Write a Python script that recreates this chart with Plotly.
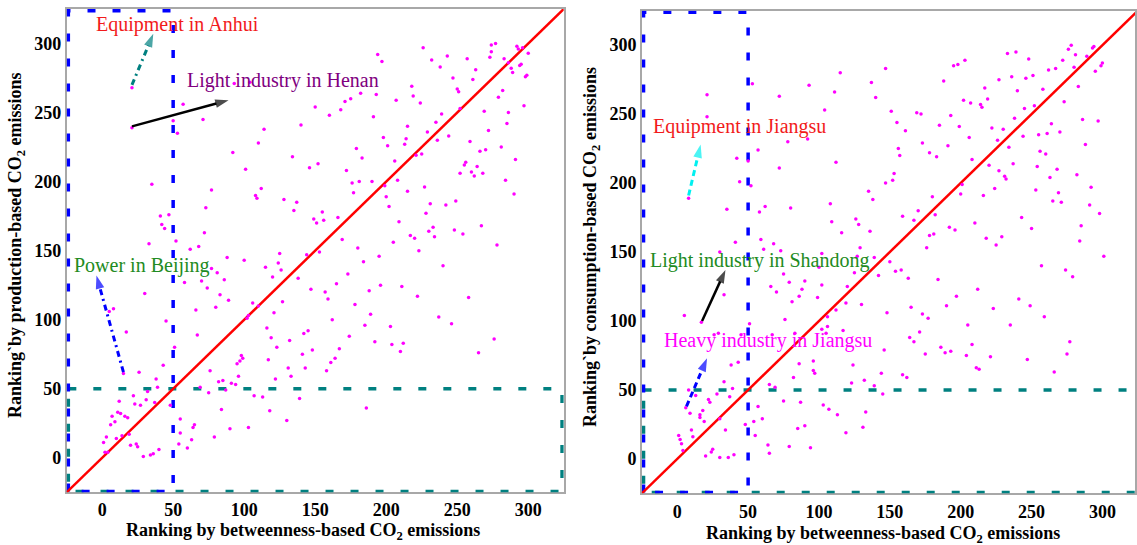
import plotly.graph_objects as go

# ---------------- data (rankings) ----------------
left_points = [
    (21,268),(21,239),(57,256),(50,244),(53,235),(71,245),(93,271),(104,272),(114,238),(110,228),
    (92,221),(101,209),(134,218),(140,241),(146,210),(152,213),(150,254),(160,248),(168,252),(171,258),
    (175,260),(182,264),(193,263),(194,292),(197,287),(191,247),(179,224),(183,217),(172,208),(198,232),
    (201,226),(206,215),(207,259),(218,269),(219,262),(224,257),(215,240),(214,231),(213,227),(221,219),
    (225,220),(226,297),(232,288),(238,283),(243,291),(247,275),(250,267),(251,265),(239,249),(235,243),
    (229,236),(236,230),(244,233),(252,253),(257,289),(263,281),(261,274),(259,229),(266,222),(270,223),
    (269,251),(272,237),(256,214),(255,212),(252,206),(260,207),(264,211),(268,206),(274,299),(277,300),
    (274,294),(273,290),(279,261),(282,266),(281,225),(283,289),(286,286),(288,282),(289,279),(292,298),
    (293,296),(296,297),(300,293),(294,284),(295,285),(299,277),(298,276),(297,255),(286,250),(285,242),
    (291,216),
    (262,204),(35,198),(77,194),(112,195),(108,190),(109,188),(128,187),(137,185),(135,179),(73,181),
    (41,175),(47,176),(42,169),(44,166),(72,163),(52,157),(33,155),(62,151),(68,153),(88,145),
    (100,143),(125,148),(124,141),(126,136),(115,138),(120,131),(77,137),(81,134),(86,129),(70,128),
    (58,127),(74,123),(83,118),(89,114),(30,119),(8,108),(5,106),(66,107),(80,109),(45,99),
    (17,91),(67,89),(106,112),(110,110),(103,103),(102,101),(121,105),(127,113),(116,94),(142,90),
    (145,92),(138,130),(147,122),(144,147),(153,149),(157,120),(159,115),(165,126),(173,133),(169,158),
    (166,174),(149,173),(151,170),(156,172),(155,178),(176,199),(181,200),(190,200),(177,192),(199,197),
    (200,189),(202,182),(208,201),(215,193),(227,196),(228,177),(231,184),(242,183),(249,186),(209,171),
    (217,161),(220,159),(230,164),(233,167),(234,160),(248,165),(254,162),(267,168),(278,154),(284,201),
    (290,191),(205,156),(180,152),(195,146),(184,142),(223,150),(240,139),(196,125),(188,121),(211,124),
    (222,117),(178,111),(189,104),(185,96),(203,95),(162,100),(237,102),(246,97),(258,116),
    (119,87),(174,88),(192,84),(204,82),(212,83),(210,77),(265,76),(276,86),(132,85),(123,80),
    (148,78),(141,75),(167,79),(164,72),(161,69),(158,63),(143,65),(131,65),(133,59),(117,71),
    (122,57),(98,74),(99,72),(97,70),(95,68),(96,59),(76,63),(51,80),(43,67),(26,62),
    (15,61),(38,57),(39,51),(32,48),(22,45),(12,41),(23,39),(31,42),(27,38),(37,40),
    (48,38),(11,33),(13,32),(16,30),(18,29),(7,30),(6,24),(9,26),(3,15),(1,11),
    (10,14),(14,16),(19,17),(2,4),(4,4),(20,9),(24,10),(25,8),(29,1),(34,2),
    (36,3),(40,6),(55,28),(55,18),(54,10),(60,7),(63,13),(64,22),(65,24),(69,51),
    (75,47),(82,55),(85,56),(87,49),(91,54),(94,53),(84,35),(79,15),(90,21),(103,22),
    (107,45),(113,44),(118,34),(130,27),(139,43),(186,36),
]

right_points = [
    (21,264),(21,248),(53,272),(72,263),(93,271),(115,280),(111,266),(104,253),(137,273),(147,283),
    (140,262),(151,252),(155,244),(161,238),(169,251),(172,250),(185,242),(188,274),(195,285),(198,286),
    (203,289),(193,249),(199,241),(202,260),(207,258),(214,257),(215,255),(219,261),(217,269),(227,275),
    (233,294),(239,295),(236,277),(240,267),(246,276),(248,290),(251,278),(238,247),(230,239),(226,231),
    (222,240),(234,226),(244,234),(245,254),(252,256),(258,268),(262,282),(267,283),(272,289),(276,297),
    (278,300),(281,293),(280,284),(283,270),(273,259),(264,243),(261,236),(255,235),(270,237),(256,223),
    (260,221),(254,212),(268,210),(282,206),(286,246),(288,228),(297,245),(289,292),(293,298),(294,299),
    (300,287),(299,285),(295,281),(227,209),(237,214),(220,213),(208,217),(206,233),(191,227),(183,219),
    (178,222),(173,229),(156,225),(157,220),(153,207),(112,215),(92,232),(78,230),(72,211),(57,224),
    (50,216),(42,218),
    (8,189),(44,201),(52,198),(35,181),(58,179),(62,183),(80,182),(108,185),(109,172),(116,164),
    (126,174),(128,170),(136,165),(135,194),(138,188),(147,200),(152,202),(159,176),(167,173),(170,180),
    (180,190),(182,177),(178,162),(181,163),(176,153),(192,168),(196,166),(201,199),(200,192),(210,171),
    (216,191),(224,196),(231,205),(232,203),(218,160),(225,155),(229,161),(243,175),(250,167),(253,195),
    (263,204),(269,193),(265,187),(271,186),(292,197),(291,184),(298,178),(285,169),(284,158),(301,147),
    (274,137),(279,132),(257,140),(241,116),(249,111),(259,103),(235,97),(223,109),(212,123),(197,118),
    (190,111),(205,97),(184,130),(163,131),(158,137),(154,136),(150,143),(142,133),(139,146),(129,153),
    (127,147),(125,135),(120,125),(119,113),(130,112),(148,106),(165,110),(173,105),(177,102),(171,92),
    (102,149),(100,139),(102,126),(99,117),(112,108),(106,103),(106,96),(102,94),(105,91),(117,93),
    (75,134),(79,128),(90,129),(88,123),(86,118),(81,114),(70,121),(66,125),(73,151),(68,156),
    (61,152),(59,159),(41,157),(30,150),(33,119),(5,104),(17,99),(51,98),(76,101),(67,90),
    (83,91),(29,91),(26,90),(45,90),
    (164,88),(167,85),(175,76),(186,81),(189,77),(193,78),(208,83),(204,75),(221,74),(211,66),
    (213,65),(247,72),(266,63),(275,76),(277,85),(146,79),(144,62),(159,61),(162,59),(139,53),
    (145,47),(132,57),(123,55),(124,68),(96,64),(97,62),(96,71),(86,69),(82,59),(69,52),
    (65,54),(75,42),(87,41),(103,39),(107,36),(113,32),(133,34),(131,23),(119,19),(90,24),
    (85,22),(94,8),(79,9),(65,4),(64,10),(60,29),(54,27),(55,17),(48,25),(57,38),
    (40,3),(36,1),(30,1),(25,7),(24,5),(20,2),(34,21),(30,29),(19,27),(16,32),
    (16,30),(18,35),(23,41),(22,43),(28,47),(37,45),(39,51),(33,56),(38,68),(43,70),
    (13,46),(9,33),(10,21),(11,16),(1,17),(2,14),(3,11),(4,6),(8,50),(6,37),
]

left_x = [p[0] for p in left_points]
left_y = [p[1] for p in left_points]
right_x = [p[0] for p in right_points]
right_y = [p[1] for p in right_points]

tick_vals = [0, 50, 100, 150, 200, 250, 300]
tick_text = ["0", "50", "100", "150", "200", "250", "300"]
axis_min, axis_max = -25, 325
right_axis_max = 323
top_cut = 50  # top-50 threshold boxes

x_title = "Ranking by betweenness-based CO<sub>2</sub> emissions"
y_title_left = "Ranking`by production-based CO<sub>2</sub> emissions"
y_title_right = "Ranking`by consumption-based CO<sub>2</sub> emissions"

# labels: (text, x, y, colour)
left_labels = [
    ("Equipment in Anhui", 53, 314, "#F21B1B"),
    ("Light industry in Henan", 127, 273, "#800080"),
    ("Power in Beijing", 28, 139, "#228B22"),
]
right_labels = [
    ("Equipment in Jiangsu", 44, 241, "#F21B1B"),
    ("Light industry in Shandong", 58, 144, "#228B22"),
    ("Heavy industry in Jiangsu", 64, 86, "#FF00FF"),
]
# arrows: (tail_x, tail_y, tip_x, tip_y, colour, dash)
left_arrows = [
    (21, 270, 36, 307, "#008080", "6px,4px,2px,4px"),
    (21, 240, 89, 259, "black", "solid"),
    (15, 62, -4, 132, "#0000FF", "6px,4px,2px,4px"),
]
right_arrows = [
    (8, 191, 16.5, 228, "#00F0F0", "6px,4px"),
    (17.5, 100, 34, 137, "black", "solid"),
    (6.5, 38, 21, 73, "#0000FF", "6px,4px"),
]

fig = go.Figure()

BLUE = "#0000FF"
TEAL = "#008080"
DASH = "8px,17px"
INSET = 1.2  # keeps the thick dashed box edges inside the frame


def add_panel(xa, ya, px, py, labels, arrows, right_inset):
    lo, c = axis_min + INSET, top_cut
    hi_y = axis_max - INSET
    hi_x = axis_max - right_inset
    bot = axis_min + 0.6
    # teal box (top-50 on y)
    fig.add_trace(go.Scatter(x=[lo, hi_x, hi_x, lo, lo], y=[c, c, bot, bot, c], mode="lines",
                             line=dict(color=TEAL, width=3.5, dash=DASH),
                             xaxis=xa, yaxis=ya, hoverinfo="skip"))
    # blue box (top-50 on x)
    fig.add_trace(go.Scatter(x=[lo, lo, c, c, lo], y=[bot, hi_y, hi_y, bot, bot], mode="lines",
                             line=dict(color=BLUE, width=3.5, dash=DASH),
                             xaxis=xa, yaxis=ya, hoverinfo="skip"))
    # 45-degree line
    fig.add_trace(go.Scatter(x=[axis_min, axis_max], y=[axis_min, axis_max], mode="lines",
                             line=dict(color="#FF0000", width=2.5),
                             xaxis=xa, yaxis=ya, hoverinfo="skip"))
    # points
    fig.add_trace(go.Scatter(x=px, y=py, mode="markers",
                             marker=dict(color="#FF00FF", size=3.5, line=dict(width=0)),
                             xaxis=xa, yaxis=ya))
    # arrows
    for tx, ty, hx, hy, col, dash in arrows:
        fig.add_trace(go.Scatter(x=[tx, hx], y=[ty, hy], mode="lines+markers",
                                 line=dict(color=col, width=2.5 if col == "black" else 3, dash=dash),
                                 marker=dict(symbol=["circle", "arrow"], size=[1, 14], color=col,
                                             angleref="previous", line=dict(width=0)),
                                 xaxis=xa, yaxis=ya, hoverinfo="skip"))
    xr = "x" if xa == "x" else "x2"
    yr = "y" if ya == "y" else "y2"
    for text, lx, ly, col in labels:
        fig.add_annotation(x=lx, y=ly, xref=xr, yref=yr, text=text, showarrow=False,
                           xanchor="center", yanchor="middle",
                           font=dict(family="Liberation Serif", size=20, color=col))


add_panel("x", "y", left_x, left_y, left_labels, left_arrows, INSET)
add_panel("x2", "y2", right_x, right_y, right_labels, right_arrows, 0)

tick_font = dict(family="Liberation Serif", size=18, color="black", weight="bold")
axis_common = dict(tickvals=tick_vals, ticktext=tick_text, showgrid=False, zeroline=False,
                   showline=True, mirror=True, linecolor="#a8a8a8", linewidth=1.5,
                   ticks="", tickfont=tick_font, layer="below traces", fixedrange=True)

fig.update_layout(
    width=1137, height=545,
    margin=dict(l=0, r=0, t=0, b=0),
    paper_bgcolor="white", plot_bgcolor="white",
    showlegend=False,
    xaxis=dict(domain=[0.0587, 0.4967], range=[axis_min, axis_max], anchor="y",
               ticklabelstandoff=0, **axis_common),
    yaxis=dict(domain=[0.0967, 0.9835], range=[axis_min, axis_max], anchor="x",
               ticklabelstandoff=0, **axis_common),
    xaxis2=dict(domain=[0.5655, 1.0], range=[axis_min, right_axis_max], anchor="y2",
                ticklabelstandoff=1, **axis_common),
    yaxis2=dict(domain=[0.0948, 0.9804], range=[axis_min, axis_max], anchor="x2",
                ticklabelstandoff=0, **axis_common),
)

title_font = dict(family="Liberation Serif", size=18, color="black")
fig.add_annotation(x=304 / 1137, y=1 - 531 / 545, xref="paper", yref="paper",
                   text="<b>" + x_title + "</b>", showarrow=False,
                   xanchor="center", yanchor="middle", font=title_font)
fig.add_annotation(x=885 / 1137, y=1 - 534 / 545, xref="paper", yref="paper",
                   text="<b>" + x_title + "</b>", showarrow=False,
                   xanchor="center", yanchor="middle", font=title_font)
fig.add_annotation(x=17 / 1137, y=1 - 245 / 545, xref="paper", yref="paper",
                   text="<b>" + y_title_left + "</b>", showarrow=False, textangle=-90,
                   xanchor="center", yanchor="middle", font=title_font)
fig.add_annotation(x=592 / 1137, y=1 - 247 / 545, xref="paper", yref="paper",
                   text="<b>" + y_title_right + "</b>", showarrow=False, textangle=-90,
                   xanchor="center", yanchor="middle", font=title_font)

fig.write_html("out.html", config={"displayModeBar": False},
               post_script="document.body.style.margin='0';")
